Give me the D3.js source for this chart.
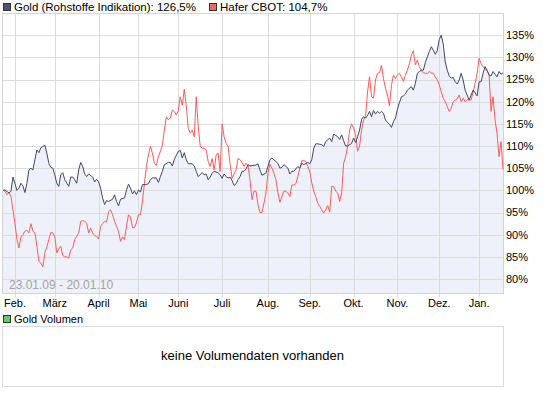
<!DOCTYPE html>
<html>
<head>
<meta charset="utf-8">
<script src="https://cdn.jsdelivr.net/npm/d3@7"></script>
<style>
  body { margin: 0; background: #fff; }
  text { font-family: "Liberation Sans", Arial, sans-serif; }
</style>
</head>
<body>
<div id="chart"></div>
<script>
// trading days since 23.01.09 -> performance in %
const gold = [[0,100.0],[1,100.1],[3,99.4],[4,99.8],[5,103.0],[6,101.6],[7,100.0],[8,100.5],[9,101.6],[10,101.0],[11,99.5],[12,101.6],[13,104.6],[14,105.0],[15,104.6],[16,106.9],[17,109.1],[18,108.5],[19,109.6],[20,109.9],[21,110.2],[22,108.4],[23,106.1],[24,105.2],[25,105.0],[26,103.5],[27,101.6],[28,100.9],[29,103.5],[30,104.0],[31,102.4],[33,100.9],[34,103.0],[35,103.0],[36,102.4],[37,101.6],[38,104.6],[39,106.3],[40,105.4],[41,103.7],[42,103.1],[43,103.7],[45,103.0],[46,101.9],[47,102.5],[48,101.9],[49,100.5],[50,98.3],[51,96.8],[52,97.7],[53,97.5],[55,98.0],[56,99.0],[57,97.5],[58,96.5],[59,98.0],[61,98.3],[62,100.1],[63,101.4],[64,100.5],[65,99.2],[66,99.9],[67,99.0],[68,100.1],[69,99.6],[70,101.3],[72,101.3],[73,101.5],[74,102.4],[75,102.8],[77,102.8],[78,101.8],[79,103.1],[80,104.3],[81,105.8],[83,106.3],[84,106.3],[85,105.5],[86,107.0],[88,108.8],[89,109.0],[90,107.3],[91,108.5],[92,106.9],[93,106.0],[95,106.0],[96,105.5],[97,104.3],[98,103.1],[100,104.0],[101,103.5],[102,103.7],[103,102.4],[104,103.0],[105,103.9],[106,104.3],[108,104.0],[109,103.5],[110,102.7],[111,103.7],[112,103.1],[113,102.8],[114,103.0],[115,102.2],[116,101.1],[117,101.5],[118,102.4],[119,103.1],[120,104.3],[121,104.3],[122,104.8],[123,105.8],[124,105.5],[125,105.6],[127,105.7],[128,106.0],[129,104.6],[130,103.4],[132,103.9],[133,105.4],[134,106.9],[135,107.3],[136,106.9],[138,106.1],[139,105.0],[140,105.2],[141,105.8],[143,105.0],[144,103.7],[145,104.3],[146,104.3],[148,105.4],[149,105.0],[150,106.1],[151,105.8],[153,106.3],[154,106.0],[155,106.9],[156,109.5],[157,110.5],[158,110.5],[160,110.3],[161,109.9],[162,111.0],[163,111.4],[164,111.8],[165,111.0],[166,112.7],[168,112.1],[169,111.5],[170,112.5],[171,111.2],[172,110.0],[173,110.0],[175,110.6],[176,111.8],[177,110.8],[178,112.1],[179,113.6],[180,116.0],[181,116.6],[182,116.3],[183,116.9],[184,117.8],[185,116.6],[186,118.0],[187,117.2],[188,117.8],[189,117.4],[190,117.8],[191,117.4],[192,115.9],[193,115.3],[194,114.9],[195,114.2],[196,115.5],[197,116.3],[198,118.3],[199,119.8],[200,121.1],[201,121.3],[202,121.7],[203,122.6],[205,123.4],[206,122.6],[207,124.1],[208,126.4],[209,126.8],[210,127.1],[211,127.1],[212,128.8],[213,130.1],[214,131.3],[215,132.4],[216,131.6],[217,130.7],[218,131.5],[219,134.0],[220,135.0],[221,133.0],[222,129.0],[223,127.1],[224,125.8],[225,125.3],[226,125.5],[227,124.5],[228,124.0],[229,124.9],[230,126.4],[231,124.9],[232,122.6],[233,121.5],[234,120.4],[235,121.5],[236,122.6],[237,122.0],[238,121.3],[239,124.5],[240,124.5],[241,126.4],[242,127.9],[243,127.1],[244,126.0],[245,125.8],[246,126.8],[247,126.2],[248,125.6],[249,126.8],[250,126.2],[251,126.5]];

const hafer = [[0,100.0],[1,99.8],[2,99.0],[3,99.5],[4,98.6],[5,95.6],[6,92.6],[7,88.9],[8,87.0],[9,89.5],[10,90.0],[11,90.8],[12,91.0],[13,90.4],[14,92.5],[15,90.8],[16,90.4],[17,87.5],[18,84.0],[19,83.6],[20,82.7],[21,85.9],[22,87.2],[23,88.9],[24,90.5],[25,90.4],[26,89.6],[27,85.9],[28,86.8],[29,87.4],[30,85.3],[31,85.0],[32,85.0],[33,84.7],[34,86.6],[35,87.0],[36,88.9],[37,89.6],[38,90.4],[39,93.0],[40,93.2],[41,93.0],[42,92.6],[43,90.4],[44,91.5],[45,90.4],[46,89.8],[47,89.6],[48,89.0],[49,91.9],[50,92.5],[51,93.0],[52,92.8],[53,95.2],[54,95.6],[55,94.5],[56,93.0],[57,91.9],[58,90.7],[59,88.5],[60,89.5],[61,88.9],[62,92.0],[63,94.5],[64,94.0],[65,91.6],[66,91.6],[67,92.7],[68,94.5],[69,94.5],[70,97.5],[71,101.6],[72,105.4],[73,108.0],[74,109.9],[75,108.4],[76,106.1],[77,105.6],[78,107.6],[79,108.8],[80,110.2],[81,113.6],[82,116.6],[83,115.9],[84,116.3],[85,118.1],[86,117.8],[87,117.0],[88,118.0],[89,121.1],[90,119.2],[91,122.8],[92,119.0],[93,114.0],[94,112.9],[95,113.6],[96,112.1],[97,121.1],[98,114.4],[99,110.0],[100,109.5],[101,109.5],[102,109.1],[103,106.5],[104,105.4],[105,107.2],[106,104.6],[107,108.0],[108,108.4],[109,104.2],[110,115.0],[111,112.1],[112,110.6],[113,109.9],[114,106.0],[115,102.7],[116,103.7],[117,104.6],[118,107.2],[119,106.9],[120,106.3],[121,105.4],[122,106.1],[123,105.6],[124,102.4],[125,97.9],[126,99.8],[127,99.8],[128,96.8],[129,95.0],[130,95.0],[131,97.1],[132,99.4],[133,103.9],[134,105.9],[135,105.0],[136,103.9],[137,102.4],[138,99.4],[139,97.3],[140,98.6],[141,99.8],[142,99.8],[143,99.4],[144,98.6],[145,101.2],[146,101.2],[147,101.5],[148,103.1],[149,105.0],[150,106.7],[151,106.7],[152,106.5],[153,105.4],[154,104.3],[155,101.7],[156,99.8],[157,98.6],[158,97.1],[159,96.4],[160,95.6],[161,94.9],[162,95.6],[163,96.6],[164,95.1],[165,100.9],[166,100.9],[167,99.8],[168,99.4],[169,97.5],[170,99.4],[171,106.1],[172,107.6],[173,109.9],[174,113.6],[175,115.0],[176,114.0],[177,112.5],[178,108.8],[179,110.0],[180,113.6],[181,115.9],[182,116.6],[183,122.2],[184,125.6],[185,121.1],[186,120.8],[187,124.9],[188,126.4],[189,126.5],[190,128.2],[191,125.2],[192,123.0],[193,121.5],[194,119.0],[195,123.7],[196,126.0],[197,125.2],[198,126.0],[199,126.4],[200,125.6],[201,124.6],[202,126.0],[203,127.1],[204,128.6],[205,130.5],[206,131.5],[207,128.3],[208,129.4],[209,127.9],[210,127.1],[211,126.5],[212,126.4],[213,126.4],[214,126.8],[215,126.5],[216,126.4],[217,125.6],[218,124.9],[219,123.8],[220,122.2],[221,120.8],[222,120.0],[223,118.9],[224,117.8],[225,118.5],[226,120.0],[227,120.4],[228,120.6],[229,121.5],[230,120.0],[231,120.8],[232,120.0],[233,120.5],[234,120.3],[235,120.4],[236,122.2],[237,124.1],[238,126.4],[239,129.8],[240,128.6],[241,127.9],[242,127.4],[243,127.0],[244,126.2],[245,117.8],[246,121.1],[247,115.9],[248,112.9],[249,107.6],[250,111.0],[251,104.7]];

const yTicks = [80, 85, 90, 95, 100, 105, 110, 115, 120, 125, 130, 135];
const monthNames = ["Jan.", "Feb.", "März", "April", "Mai", "Juni", "Juli", "Aug.", "Sep.", "Okt.", "Nov.", "Dez."];
const holidays = ["2009-04-10", "2009-04-13", "2009-05-01", "2009-12-24", "2009-12-25", "2009-12-31", "2010-01-01"];
const legendItems = [
    { label: "Gold (Rohstoffe Indikation): 126,5%", color: "#4b5677" },
    { label: "Hafer CBOT: 104,7%", color: "#ff6464" }
];

const width = 545, height = 395;
const plot = { left: 2, right: 503, top: 13, bottom: 293 };
const fmt = d3.timeFormat("%Y-%m-%d");

// trading calendar (weekdays without exchange holidays)
const days = d3.timeDay.range(new Date(2009, 0, 23), new Date(2010, 0, 21))
    .filter(d => d.getDay() % 6 !== 0 && !holidays.includes(fmt(d)));
const monthStarts = days.map((d, i) => ({ d, i }))
    .filter((o, k, arr) => k > 0 && o.d.getMonth() !== arr[k - 1].d.getMonth());

const svg = d3.select("#chart").append("svg")
    .attr("width", width)
    .attr("height", height);

const x = d3.scaleLinear()
    .domain([0, days.length - 1])
    .range([plot.left + 1, plot.right]);

const y = d3.scaleLinear()
    .domain([76.85, 140])
    .range([plot.bottom, plot.top]);

// filled area under gold
svg.append("path")
    .datum(gold)
    .attr("fill", "#eef1fa")
    .attr("d", d3.area().x(d => x(d[0])).y0(plot.bottom).y1(d => y(d[1])));

// grid
svg.append("g").selectAll("line")
    .data(yTicks)
    .enter().append("line")
    .attr("x1", plot.left).attr("x2", plot.right)
    .attr("y1", d => Math.round(y(d)) + 0.5).attr("y2", d => Math.round(y(d)) + 0.5)
    .attr("stroke", "#dcdcdc");

svg.append("g").selectAll("line")
    .data(monthStarts)
    .enter().append("line")
    .attr("x1", d => Math.round(x(d.i)) + 0.5).attr("x2", d => Math.round(x(d.i)) + 0.5)
    .attr("y1", plot.top).attr("y2", plot.bottom + 4)
    .attr("stroke", "#dcdcdc");

svg.append("rect")
    .attr("x", plot.left + 0.5).attr("y", plot.top + 0.5)
    .attr("width", plot.right - plot.left).attr("height", plot.bottom - plot.top)
    .attr("fill", "none")
    .attr("stroke", "#d4d4d4");

// lines
const line = d3.line().x(d => x(d[0])).y(d => y(d[1]));

svg.append("path")
    .datum(hafer)
    .attr("fill", "none")
    .attr("stroke", "#ff5c5c")
    .attr("stroke-width", 1)
    .attr("d", line);

svg.append("path")
    .datum(gold)
    .attr("fill", "none")
    .attr("stroke", "#3e4868")
    .attr("stroke-width", 1)
    .attr("d", line);

// axes labels
svg.append("g").selectAll("text")
    .data(yTicks)
    .enter().append("text")
    .attr("x", plot.right + 3)
    .attr("y", d => y(d))
    .attr("dy", "0.35em")
    .style("font-size", "11px")
    .text(d => d + "%");

svg.append("g").selectAll("text")
    .data(monthStarts)
    .enter().append("text")
    .attr("x", d => x(d.i))
    .attr("y", 307)
    .attr("text-anchor", "middle")
    .style("font-size", "11px")
    .text(d => monthNames[d.d.getMonth()]);

svg.append("text")
    .attr("x", 9)
    .attr("y", 289)
    .style("font-size", "12px")
    .style("fill", "#a3a3a3")
    .text("23.01.09 - 20.01.10");

// legend
const legendX = [3, 209];
legendItems.forEach((item, i) => {
    svg.append("rect")
        .attr("x", legendX[i] + 0.5).attr("y", 3.5)
        .attr("width", 7).attr("height", 7)
        .attr("fill", item.color)
        .attr("stroke", "#333");
    svg.append("text")
        .attr("x", legendX[i] + 11)
        .attr("y", 11)
        .style("font-size", "11.5px")
        .text(item.label);
});

// volume panel
svg.append("rect")
    .attr("x", 3.5).attr("y", 315.5)
    .attr("width", 7).attr("height", 7)
    .attr("fill", "#66cc66")
    .attr("stroke", "#333");

svg.append("text")
    .attr("x", 14)
    .attr("y", 323)
    .style("font-size", "11px")
    .text("Gold Volumen");

svg.append("rect")
    .attr("x", plot.left + 0.5).attr("y", 326.5)
    .attr("width", plot.right - plot.left).attr("height", 60)
    .attr("fill", "none")
    .attr("stroke", "#dcdcdc");

svg.append("text")
    .attr("x", (plot.left + plot.right) / 2)
    .attr("y", 360)
    .attr("text-anchor", "middle")
    .style("font-size", "13px")
    .text("keine Volumendaten vorhanden");
</script>
</body>
</html>
